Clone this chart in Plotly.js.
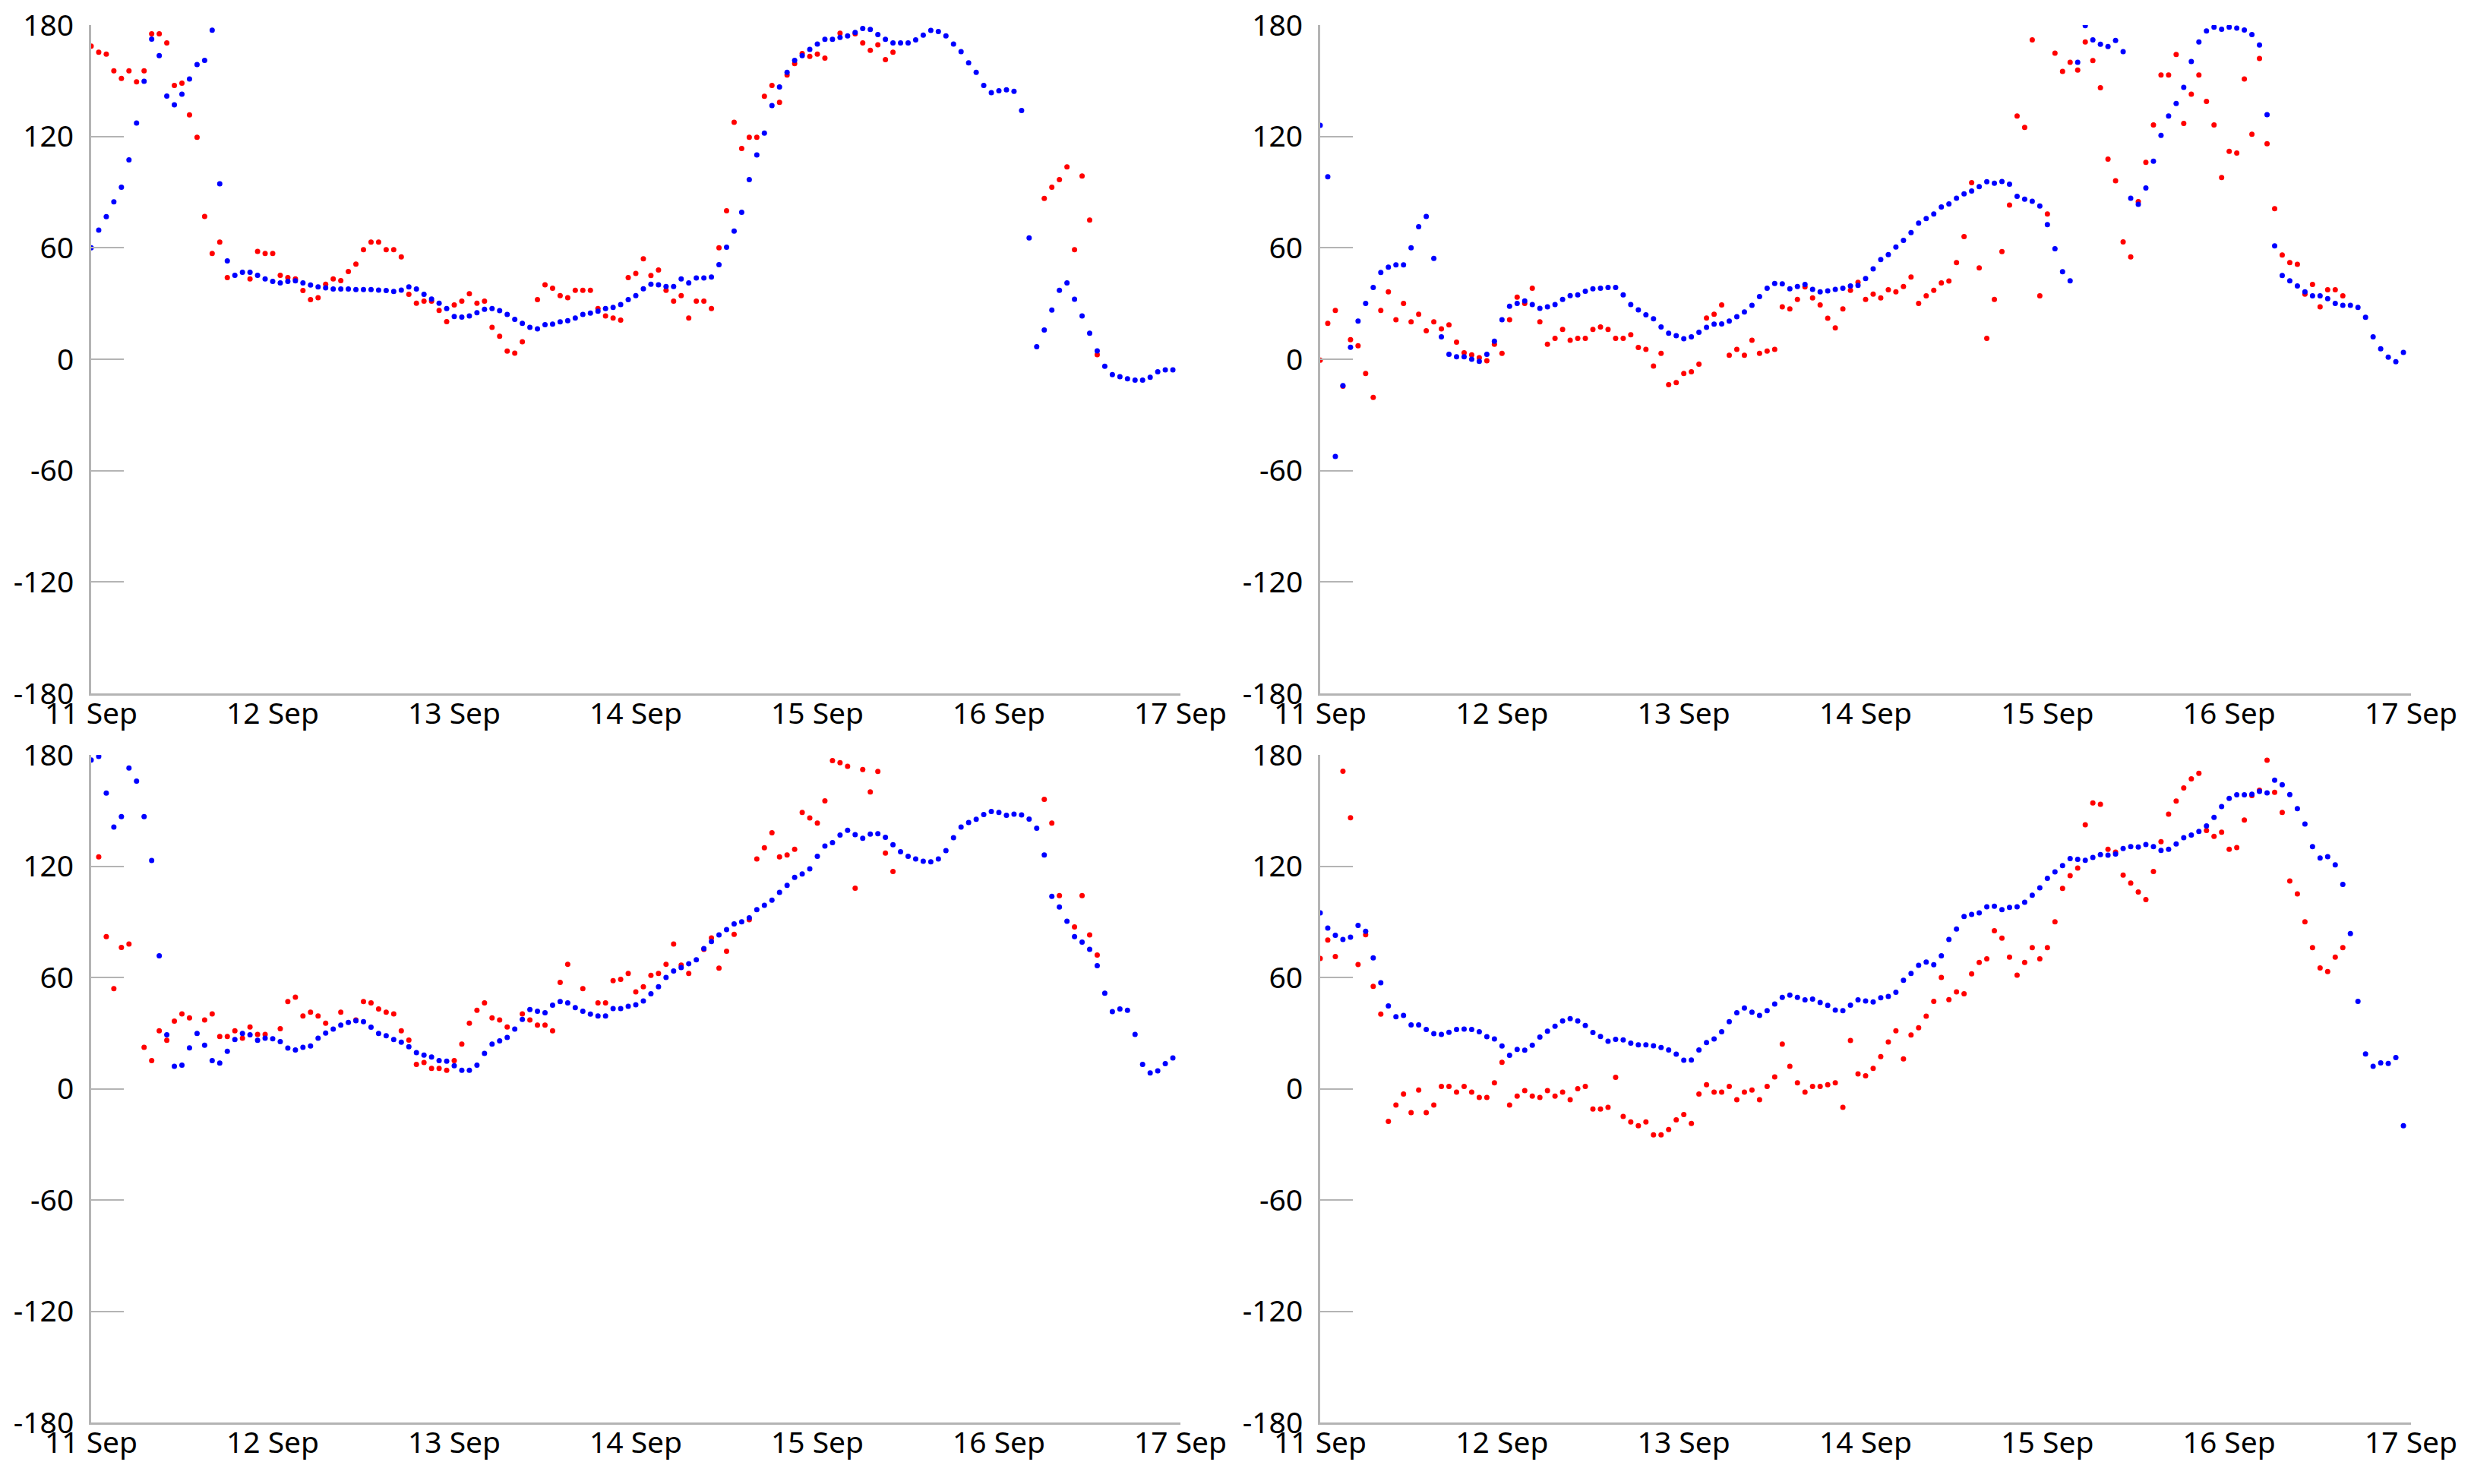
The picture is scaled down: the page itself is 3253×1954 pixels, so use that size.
<!DOCTYPE html>
<html>
<head>
<meta charset="utf-8">
<script src="https://cdn.plot.ly/plotly-3.0.1.min.js"></script>
<style>html,body{margin:0;padding:0;background:#fff;}#chart{width:3253px;height:1954px;}</style>
</head>
<body>
<div id="chart"></div>
<script>
// Hourly samples starting 11 Sep 00:00 (index = hour since start)
const startDate = "2021-09-11T00:00:00";
const dayTicks = ["2021-09-11","2021-09-12","2021-09-13","2021-09-14","2021-09-15","2021-09-16","2021-09-17"];
const dayLabels = ["11 Sep","12 Sep","13 Sep","14 Sep","15 Sep","16 Sep","17 Sep"];
const yTicks = [-180,-120,-60,0,60,120,180];
const N = null;

// Top-left panel
const tlBlue = [60,69.5,76.8,84.8,92.7,107.4,127.2,149.7,172.4,163.5,141.7,137,142.8,151,158.7,161,177.2,94.5,53,45.2,46.8,46.8,45.2,43.3,
41.9,41.1,41.9,42.2,41.1,40,39,38.5,37.8,37.8,37.8,37.5,37.5,37.5,37.2,37,36.5,37.2,39,37.8,35,32.4,30.2,27.3,
23,22.7,23.3,25.1,26.9,27.3,26.2,24.1,21.5,19.3,17.2,16.4,18.6,18.9,20.1,20.8,22.2,24.1,24.9,25.9,27.3,27.9,29.5,32.1,
34.3,37.9,40.4,40.1,39.2,39.2,43.3,41.1,43.8,43.8,44.3,50.9,60.3,69,79.2,96.8,110,121.8,136.6,146.7,154.5,161,163.5,166.9,
169.8,172.3,172.3,173.4,174.2,176,178.2,177.6,174.9,172.3,170.4,170.4,170.4,172,174.6,177.1,176.5,174.2,169.8,165.7,159.6,154.5,147.5,143.6,
144.6,145.1,144.3,134,65.4,6.7,15.7,26.5,37.1,41.1,32.3,23.3,14,4.5,-3.8,-8.3,-9.4,-10.5,-11.2,-11.2,-9.7,-6.8,-5.7,-5.7];
const tlRed = [168.6,165.4,164.4,155.4,151.3,155.4,149.4,155.4,175.3,175.3,170.4,147.5,148.7,131.6,119.6,76.9,57,63.1,44,N,N,43.3,58.1,57,
57,45.2,44,43.3,37,32.1,33.1,40.4,43.3,42.3,47.2,51.2,59,63.1,63.1,59,59,55.1,35,30.2,31.3,31.3,26.3,20.2,
29.2,31.3,35.3,30.2,31.3,17.2,12.4,4.4,3.3,9.4,N,32.1,40.1,38.2,34.3,33.1,37.1,37.1,37.1,27.3,23.3,22.2,21.1,44,
46.2,54.1,45.1,48.1,37.1,31.3,34.3,22.2,31.3,31.3,27.3,60,80,127.6,113.5,119.6,119.6,141.6,147.5,138.4,153.1,159.2,164.7,163.1,
164.4,162.2,N,175.6,N,175.3,170.4,166.4,169.4,161.4,165.4,N,N,N,N,N,N,N,N,N,N,N,
N,N,N,N,N,N,N,N,86.6,92.7,96.8,103.6,59,98.7,75,2.5,N,N,N,N,N,N,N,N];

// Top-right panel
const trBlue = [126,98.3,-52.4,-14.2,6.4,20.6,30.1,38.7,46.7,49.6,50.8,50.8,60,71.4,76.9,54.3,12.1,2.7,1.3,1.3,0,-1.1,2.7,9.7,
21.3,28.5,30.1,31.4,29.5,27.4,28.2,29.5,32.2,34.3,34.7,36.6,37.9,38.2,38.7,38.7,34.7,29.5,26.6,23.9,21.8,17.4,14,12.7,
11,12.1,14.5,17.2,18.9,19,20.6,22.9,25.5,29,33.8,38.2,40.8,40.6,37.9,39.2,40.3,37.6,36.3,36.8,37.6,38.2,39.5,39.8,
43.5,48.7,53.7,56.4,60.4,64,68.2,73.3,75.8,78.2,82,83.7,86.7,89.1,90.6,93,95.6,94.8,95.7,94.3,87.8,86.2,85.1,82.5,
72.5,59.5,47.1,42.2,160,179.7,172,169.7,168.4,171.7,165.7,86.7,83.5,92.2,106.7,120.6,131,137.8,146.5,160.4,170.9,176.8,178.9,177.8,
178.9,178.4,177.3,174.9,169.3,131.7,61.1,45.1,42.2,39.5,36.3,34.2,34.2,32.6,30.1,29,29,27.9,22.6,12.1,5.6,1.1,-1.3,3.7];
const trRed = [-0.5,19.3,26.3,-14.5,10.5,7.3,-7.7,-20.6,26.3,36.3,21.3,30.1,20.1,24.2,15.3,20.1,16.4,18.5,9.2,3.5,2.4,0.8,-0.8,8.1,
3.2,21.3,33.4,30.1,38.2,20.1,8.1,11.3,16.1,10.2,11.3,11.3,16.1,17.4,16.1,11.3,11.3,13.2,6.3,5.3,-3.7,3.2,-13.7,-12.6,
-7.7,-6.8,-2.7,22.2,24.2,29.3,2.1,5.3,2.1,10.2,3.2,4.4,5.3,28.2,27.1,32.2,39,33,29.3,22.1,16.9,27.1,37.1,41.4,
32.2,35.1,33,37.4,36.3,39.2,44.3,30.1,34.2,37.1,41.1,42.1,52.1,66.1,95.1,49.2,11.3,32.2,58,83,131,124.9,172,34.2,
78.2,164.9,155,160,155.8,170.9,160.9,146.2,107.8,96.1,63.2,55.1,84.9,106.1,126.2,153.1,153.1,164.1,127,142.8,153.1,138.9,126.2,97.9,
112,111.1,151,121.2,162,116.1,81.1,56.1,52.1,51.1,35.1,40.3,28.2,37.4,37.4,34.2,N,N,N,N,N,N,N,N];

// Bottom-left panel
const blBlue = [177.2,179.2,159.4,141.1,146.7,172.9,165.9,146.7,123.1,71.7,29.1,12.1,12.7,22,29.8,23.4,15.2,13.8,20.2,26.5,29.8,29.1,26.1,27.2,
26.9,25.4,21.9,20.9,22.3,23,27.2,30,32.2,34.3,35.7,36.7,36.1,33.2,29.8,28.6,26.5,25.1,22.6,19.5,18.1,17.1,15.2,14.8,
12.4,9.9,9.9,12.7,19,24.1,25.8,27.6,32.2,37.4,42.7,41.8,41,45.1,47,46.3,43.7,41.8,40.2,39.2,39.2,43.2,43.2,44.4,
45.3,47.3,51.2,55,60,63.5,65.3,67.4,69.5,75.6,79.4,82.9,85.8,88.9,90,92.1,96.6,98.9,101.7,105.9,109.7,114,115.8,118.6,
125.3,130.9,132.7,136.8,139.4,137,135.1,137.3,137.5,135.6,131.6,127.8,125.3,123.9,122.7,122.4,123.9,128.4,135.4,141.1,143.6,145.3,147.8,149.5,
149,147.4,148.1,147.6,145.4,140.5,126,103.7,98,90.3,82,79,75.2,66.3,51.5,41.6,43,42.3,29.3,13.1,8.5,9.6,13.5,16.6];
const blRed = [N,125,82,54,76.2,78,N,22.3,15.2,31.2,26.1,36.4,40.3,38.2,N,37.1,40.3,28.2,28.2,31.2,27.2,33.3,29.3,29.3,
N,32.4,47,49.4,39.2,41.3,39.2,35.3,N,41.3,N,37.1,47,46.3,43,41.3,40.3,31.2,26.2,13.1,14.1,11,11,9.9,
15.2,24.1,35.3,42.3,46.3,38.2,37.1,33.3,N,40.3,37.1,34.3,34.3,31.2,57.3,67.1,N,54,N,46.3,46.3,58.3,59,62.2,
52.2,55,61.1,62.1,67.1,78,66.7,62.1,N,75.2,81.3,65,74.1,83.2,N,91.1,123.9,129.9,138,125,126,129.1,149,146,
143.2,155.2,176.9,175.8,173.9,108.1,172.1,160,171.1,127.1,117.1,N,N,N,N,N,N,N,N,N,N,N,
N,N,N,N,N,N,N,N,156,143.2,104.1,N,87.2,104.1,82.9,72.1,N,N,N,N,N,N,N,N];

// Bottom-right panel
const brBlue = [94.8,86.6,82.7,80.5,81.7,88.1,84.9,70.5,57.1,44.6,38.8,39.5,34.4,34.4,31.9,29.7,29.3,30.4,31.9,32.2,31.9,30.7,28.1,26.8,
23,18,21.2,20.8,23.4,27.8,31,33.7,36.6,37.8,36.6,34.1,30.3,28.2,25.6,26.6,26.3,24.6,23.7,23.7,23.1,22.2,20.9,18.6,
15.4,15.5,20.9,24.9,26.8,30.7,36.1,41,43.5,41.3,39.5,42.1,45.7,49.3,50.5,49.3,47.9,48.3,46.5,44.9,42.4,42.1,45.1,47.9,
47.3,46.8,49,49.8,52,58.5,62.2,66.6,68.3,66.9,71.7,80.5,86.1,92.9,94,94.8,98.1,98.4,96.6,97.8,98.1,100.5,104.3,108.3,
113.4,116.9,120.3,124.1,123.7,123.2,124.7,126.2,125.9,126.6,129.5,130.5,130.3,131.7,130.5,128.5,129.1,132,135.4,136.8,138.7,141.7,146.3,152.2,
156.6,158.5,158.5,158.8,160.3,159.5,166.4,163.9,158.6,151,142.7,130.5,124.4,125.1,120.7,110.2,83.7,47.1,18.7,12.1,13.9,13.6,16.8,-20];
const brRed = [70.2,80.2,71.3,171.2,146.1,67,83,55.2,40.2,-17.6,-8.8,-2.9,-12.9,-0.7,-12.9,-8.8,1.2,1.2,-1.8,1.2,-1.8,-4.7,-4.7,3.2,
14.2,-8.8,-4,-1,-4,-4.7,-1,-4,-1.8,-5.9,0,1.2,-11,-11,-10,6.1,-14.9,-17.9,-20,-17.9,-24.9,-24.9,-22,-16.8,
-13.9,-18.7,-2.9,2.2,-1.8,-1.8,1.2,-5.9,-1.8,-0.7,-5.9,1.2,6.3,24.1,12.1,3.2,-1.8,1.2,1.2,2.2,3.2,-10,26,8,
7,11,17.3,25.2,31.2,16.1,29,32.9,39.1,47.1,60,48,52.2,51.2,61.9,68.1,70,85.2,81.2,71,61.2,68.1,76.1,70,
76.1,90,108,114.9,119,142.3,154.1,153.4,129.1,127.6,115.2,110.9,106.1,102,117.1,133.2,148.1,155.1,162.2,167.1,170.1,139.3,136.1,138.3,
129.1,130,144.9,158.1,161,177.1,159.8,149,112,105.1,90,76.1,65.1,63.2,71,76.1,N,N,N,N,N,N,N,N];

function timesFor(n){
  const t0 = new Date(startDate + "Z").getTime();
  const out = [];
  for (let i = 0; i < n; i++) {
    const d = new Date(t0 + i*3600000);
    out.push(d.toISOString().slice(0,19).replace("T"," "));
  }
  return out;
}
const times = timesFor(144);

const panels = [
  {red: tlRed, blue: tlBlue, xa: "x",  ya: "y"},
  {red: trRed, blue: trBlue, xa: "x2", ya: "y2"},
  {red: blRed, blue: blBlue, xa: "x3", ya: "y3"},
  {red: brRed, blue: brBlue, xa: "x4", ya: "y4"}
];
const traces = [];
panels.forEach(p => {
  traces.push({type:"scatter", mode:"markers", x: times, y: p.red, xaxis: p.xa, yaxis: p.ya,
    marker:{color:"#ff0000", size:7}, showlegend:false, hoverinfo:"skip"});
  traces.push({type:"scatter", mode:"markers", x: times, y: p.blue, xaxis: p.xa, yaxis: p.ya,
    marker:{color:"#0000ff", size:7}, showlegend:false, hoverinfo:"skip"});
});

const W = 3253, H = 1954;
const fontFam = "'Noto Sans', 'Open Sans', sans-serif";
function xax(x0, x1, anchor){
  return {domain:[x0/W, x1/W], anchor: anchor, type:"date",
    range:["2021-09-11 00:00","2021-09-17 00:00"],
    tickmode:"array", tickvals: dayTicks, ticktext: dayLabels,
    showline:true, linecolor:"#b4b4b4", linewidth:3,
    ticks:"",
    showgrid:false, zeroline:false,
    tickfont:{family:fontFam, size:39, color:"#000"}, ticklabelstandoff:-10};
}
function yax(yTopPx, yBotPx, anchor){
  return {domain:[1 - yBotPx/H, 1 - yTopPx/H], anchor: anchor,
    range:[-180,180], tickmode:"array", tickvals: yTicks, ticktext: yTicks.map(String),
    showline:true, linecolor:"#b4b4b4", linewidth:3,
    ticks:"inside", ticklen:43, tickwidth:2, tickcolor:"#b4b4b4",
    showgrid:false, zeroline:false,
    tickfont:{family:fontFam, size:39, color:"#000"}, ticklabelstandoff:12};
}

const layout = {
  width: W, height: H,
  margin:{l:0, r:0, t:0, b:0},
  paper_bgcolor:"#fff", plot_bgcolor:"#fff",
  showlegend:false,
  xaxis:  xax(120, 1554, "y"),
  yaxis:  yax(33, 913, "x"),
  xaxis2: xax(1738, 3174, "y2"),
  yaxis2: yax(33, 913, "x2"),
  xaxis3: xax(120, 1554, "y3"),
  yaxis3: yax(994, 1873, "x3"),
  xaxis4: xax(1738, 3174, "y4"),
  yaxis4: yax(994, 1873, "x4")
};

Plotly.newPlot("chart", traces, layout, {staticPlot:true, displayModeBar:false});
</script>
</body>
</html>
